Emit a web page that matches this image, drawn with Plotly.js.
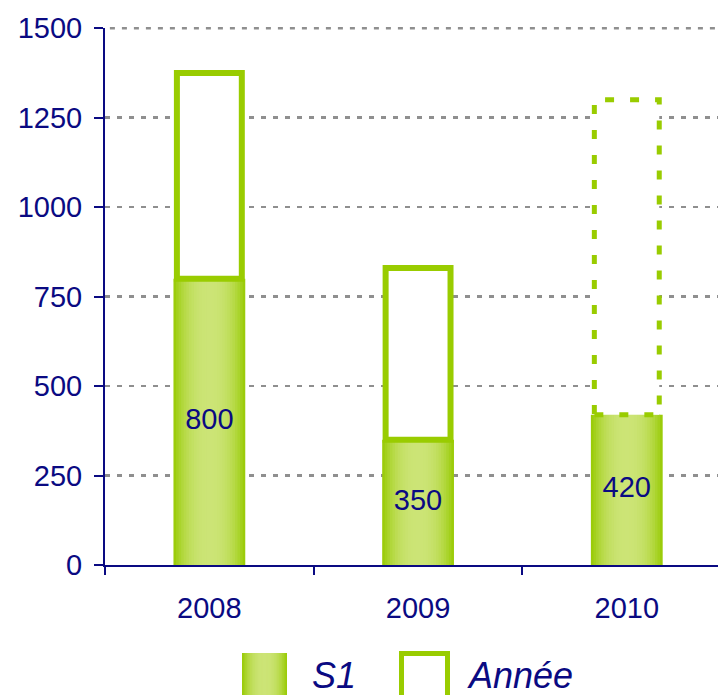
<!DOCTYPE html>
<html>
<head>
<meta charset="utf-8">
<script src="https://cdn.plot.ly/plotly-3.0.1.min.js"></script>
<style>
  html, body { margin: 0; padding: 0; background: #ffffff; }
  #chart { width: 718px; height: 695px; }
</style>
</head>
<body>
<div id="chart"></div>
<script>
// ---- data ----
const years = ['2008', '2009', '2010'];
const s1Values = [800, 350, 420];          // first half (S1)
const yearValues = [1375, 830, 1300];      // full year (Année)
const yearIsEstimate = [false, false, true];
const yTicks = [0, 250, 500, 750, 1000, 1250, 1500];
const seriesNames = ['S1', 'Année'];

// ---- style ----
const NAVY = '#0a0a82';
const GREEN = '#99cc00';
const GRID = '#8f8f8f';
const EDGE = [150, 202, 0];
const CENTER = [204, 228, 118];
const FONT = 'Liberation Sans, Arial, Helvetica, sans-serif';
const BAR_W = 0.344;
const OUT_W = 0.311;
const N_LAYERS = 14;
const Y_RANGE = [0, 1500.6];

const W = 718, H = 695;
const M = { l: 105, r: 0, t: 28, b: 130 };
const PW = W - M.l - M.r, PH = H - M.t - M.b;
const px = x => (x - M.l) / PW;
const py = y => (H - M.b - y) / PH;

function layerColor(k) {
  const t = (N_LAYERS - k - 0.5) / N_LAYERS;
  const f = Math.pow(t, 2.4);
  const c = CENTER.map((v, i) => Math.round(v + (EDGE[i] - v) * f));
  return 'rgb(' + c.join(',') + ')';
}

const traces = [];
for (let k = 0; k < N_LAYERS; k++) {
  const frac = 1 - k / N_LAYERS;
  traces.push({
    type: 'bar',
    x: years,
    y: s1Values,
    width: years.map(() => BAR_W * frac),
    marker: { color: layerColor(k), line: { width: 0 } },
    hoverinfo: k === 0 ? 'x+y' : 'skip',
    name: seriesNames[0],
    showlegend: false
  });
}
traces.push({
  type: 'scatter',
  mode: 'text',
  x: years,
  y: s1Values.map(v => v / 2),
  text: s1Values.map(v => String(v)),
  textposition: 'middle center',
  textfont: { family: FONT, size: 29, color: NAVY },
  hoverinfo: 'skip',
  showlegend: false,
  cliponaxis: false
});

const shapes = [];
// top gridline (Plotly omits gridlines at the very edge of the range)
const yMaxPaper = (yTicks[yTicks.length - 1] - Y_RANGE[0]) / (Y_RANGE[1] - Y_RANGE[0]);
shapes.push({
  type: 'line', xref: 'paper', yref: 'paper', layer: 'below',
  x0: 0.008, x1: 1, y0: yMaxPaper, y1: yMaxPaper,
  line: { color: GRID, width: 2.5, dash: '5px,7px' }
});

years.forEach((yr, i) => {
  shapes.push({
    type: 'rect', xref: 'x', yref: 'y', layer: 'above',
    x0: i - OUT_W / 2, x1: i + OUT_W / 2,
    y0: s1Values[i], y1: yearValues[i],
    fillcolor: '#ffffff',
    line: { color: GREEN, width: yearIsEstimate[i] ? 5 : 6, dash: yearIsEstimate[i] ? '9px,16px' : 'solid' }
  });
});

// legend (drawn manually to match the large swatches)
const s1Sw = { x0: 242, x1: 287, y0: 653, y1: 705 };
for (let k = 0; k < N_LAYERS; k++) {
  const frac = 1 - k / N_LAYERS;
  const cx = (s1Sw.x0 + s1Sw.x1) / 2, hw = (s1Sw.x1 - s1Sw.x0) / 2 * frac;
  shapes.push({
    type: 'rect', xref: 'paper', yref: 'paper', layer: 'above',
    x0: px(cx - hw), x1: px(cx + hw), y0: py(s1Sw.y1), y1: py(s1Sw.y0),
    fillcolor: layerColor(k), line: { width: 0 }
  });
}
shapes.push({
  type: 'rect', xref: 'paper', yref: 'paper', layer: 'above',
  x0: px(401.5), x1: px(447.5), y0: py(705), y1: py(653.5),
  fillcolor: 'rgba(0,0,0,0)', line: { color: GREEN, width: 5 }
});

const annotations = [
  { xref: 'paper', yref: 'paper', x: px(310), y: py(653), xanchor: 'left', yanchor: 'top',
    text: '<i>' + seriesNames[0] + '</i>', showarrow: false,
    font: { family: FONT, size: 36, color: NAVY } },
  { xref: 'paper', yref: 'paper', x: px(465), y: py(653), xanchor: 'left', yanchor: 'top',
    text: '<i>' + seriesNames[1] + '</i>', showarrow: false,
    font: { family: FONT, size: 36, color: NAVY } }
];

const layout = {
  width: W, height: H,
  margin: M,
  paper_bgcolor: '#ffffff',
  plot_bgcolor: '#ffffff',
  barmode: 'overlay',
  showlegend: false,
  font: { family: FONT, color: NAVY },
  xaxis: {
    type: 'category',
    range: [-0.5, 2.437],
    tickson: 'boundaries',
    ticks: 'outside', ticklen: 8, tickwidth: 2, tickcolor: NAVY,
    showline: true, linecolor: NAVY, linewidth: 2,
    showgrid: false, zeroline: false,
    ticklabelstandoff: 16,
    tickfont: { family: FONT, size: 29, color: NAVY },
    fixedrange: true
  },
  yaxis: {
    range: Y_RANGE,
    tickvals: yTicks,
    ticktext: yTicks.map(String),
    ticks: 'outside', ticklen: 9, tickwidth: 2, tickcolor: NAVY,
    showline: true, linecolor: NAVY, linewidth: 2,
    showgrid: true, gridcolor: GRID, gridwidth: 2.5, griddash: '5px,7px',
    zeroline: false,
    ticklabelstandoff: 6,
    tickfont: { family: FONT, size: 29, color: NAVY },
    fixedrange: true
  },
  shapes: shapes,
  annotations: annotations
};

Plotly.newPlot('chart', traces, layout, { displayModeBar: false, staticPlot: true });
</script>
</body>
</html>
